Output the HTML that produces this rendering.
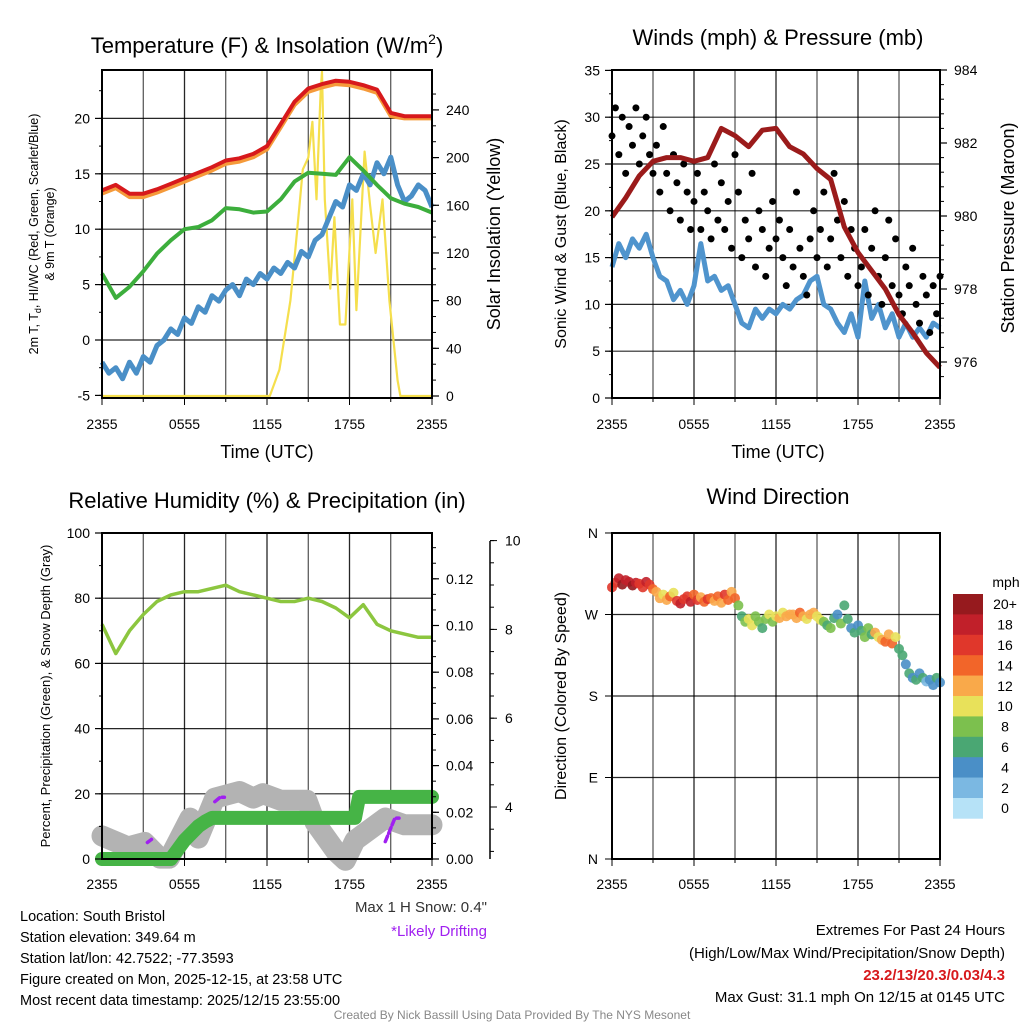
<!DOCTYPE html>
<html><head><meta charset="utf-8">
<style>
html,body{margin:0;padding:0;background:#fff;}
svg{display:block;font-family:"Liberation Sans",Arial,sans-serif;}
</style></head>
<body>
<svg id="chart" width="1024" height="1024" viewBox="0 0 1024 1024" xmlns="http://www.w3.org/2000/svg">
<rect width="1024" height="1024" fill="#fff"/>
<g id="root"></g>
</svg>
<script>
// ---------- DATA ----------
var xTickLabels = ["2355","0555","1155","1755","2355"];
// Panel 1: temperature (hourly, F)
var tempT = [13.5,14,13.2,13.2,13.6,14.1,14.6,15.1,15.6,16.2,16.4,16.8,17.5,19.5,21.5,22.7,23.1,23.4,23.3,23.0,22.6,20.5,20.2,20.2,20.2];
var temp9m = [13.2,13.7,12.9,12.9,13.3,13.8,14.3,14.8,15.3,15.9,16.1,16.5,17.2,19.2,21.2,22.4,22.8,23.1,23.0,22.7,22.3,20.2,20.0,20.0,20.0];
var dewT = [6,3.8,4.8,6.2,7.8,9,10,10.2,10.8,11.9,11.8,11.5,11.6,12.7,14.3,15.1,15.0,14.9,16.5,15.3,14.0,12.8,12.3,12.0,11.5];
var windChill = [-2,-3,-2.5,-3.5,-2,-3,-1.5,-2,-0.5,0,1,0.5,2,1.5,3,2.5,4,3.5,4.5,5,4,5.5,5,6,5.5,6.5,6,7,6.5,8,7.5,9,9.5,11,12.5,12,14,13.5,15,14,16,15,16.5,14,12.5,13,14,13.5,12];
var solarTimes = [0,12.2,12.9,13.7,14.2,14.6,15.0,15.3,15.6,15.9,16.0,16.2,16.6,16.9,17.3,17.7,18.2,18.5,19.1,19.5,19.9,20.4,20.9,21.5,21.7,24];
var solarValues = [0,0,22,80,140,190,200,230,165,255,272,165,90,150,60,60,165,72,205,160,120,165,80,13,0,0];
var tempTicks = [-5,0,5,10,15,20];
var solarTicks = [0,40,80,120,160,200,240];
// Panel 2: winds & pressure
var pressure = [979.97,980.5,981.1,981.5,981.6,981.6,981.5,981.6,982.4,982.2,981.9,982.35,982.4,981.9,981.7,981.3,981.0,979.7,979.0,978.5,978.0,977.3,976.8,976.25,975.85];
var windSpeed = [14,16.5,15,17,16,17.5,15,13,12.5,10.5,11.5,10,12,16.5,12.5,13,11.5,12,10,8,7.5,9.5,8.5,9.5,9,10,9.5,10.5,11,12.5,13,10,9.5,8,7,9,6.5,12.5,8.5,10,7.5,9,6.5,8,6.5,7.5,6.5,8,7.5];
var windGust = [28,31,26,30,24,29,27,31,25,28,30,26,24,
27,22,29,24,20,26,23,19,25,22,18,21,
24,18,22,20,17,25,19,23,18,21,16,26,
22,15,19,17,24,14,20,18,13,16,21,17,
19,15,12,18,14,22,16,13,11,17,20,15,
18,22,14,17,24,19,15,21,13,18,16,12,
14,18,11,16,20,13,10,15,19,12,17,11,
9,14,12,16,10,8,13,11,7,12,9,13];
var windTicks = [0,5,10,15,20,25,30,35];
var pressTicks = [976,978,980,982,984];
// Panel 3: RH & precip & snow
var rh = [72,63,70,75,79,81,82,82,83,84,82,81,80,79,79,80,79,77,74,78,72,70,69,68,68];
var precipTimes = [0,5.0,5.5,6.0,6.5,7.0,7.5,8.0,18.4,18.7,24];
var precipValues = [0,0,0.004,0.008,0.011,0.014,0.016,0.0176,0.0176,0.0266,0.0266];
var snowTimes = [0,1.9,3.1,4.2,4.9,6.4,7.0,8.2,10,11,11.7,13,14.9,15.5,17,17.7,18.4,20.6,22,24];
var snowValues = [3.35,3.1,3.2,2.85,2.85,3.75,3.3,4.2,4.35,4.2,4.3,4.15,4.15,3.65,3.0,2.8,3.25,3.75,3.6,3.6];
var driftTimes = [[3.3,3.6],[8.2,8.6,8.9],[20.6,21.3,21.6]];
var driftValues = [[3.2,3.27],[4.12,4.22,4.22],[3.22,3.75,3.75]];
var rhTicks = [0,20,40,60,80,100];
var precipTicks = [0,0.02,0.04,0.06,0.08,0.10,0.12];
var snowTicks = [4,6,8,10];
// Panel 4: wind direction (every 15 min)
var windDir = [300,305,310,303,308,306,302,305,304,300,306,303,298,
295,288,292,286,290,294,285,282,
287,290,284,292,286,289,284,287,
288,285,290,283,292,286,295,288,
280,268,262,265,258,268,262,255,
265,270,262,268,266,272,268,270,
270,266,272,268,265,270,272,268,
264,262,258,255,266,270,260,280,
265,255,250,258,252,245,255,248,
250,245,242,240,248,238,245,232,
225,215,205,200,198,205,200,196,
198,192,200,195];
var dirSpeed = [16,17,19,20,19,18,20,18,17,16,18,16,14,
12,13,10,12,14,11,16,18,
17,16,18,14,16,13,15,16,
14,12,15,13,16,14,12,15,
8,6,9,10,10,8,9,7,
9,10,8,11,12,10,12,13,
12,13,14,12,11,12,13,11,
10,8,7,9,6,5,8,7,
6,5,7,4,6,8,9,6,
12,11,13,14,12,15,10,7,
6,5,7,4,6,5,6,3,
5,4,6,5];
var dirLabels = ["N","E","S","W","N"];
var cbLabels = ["0","2","4","6","8","10","12","14","16","18","20+"];
var cbColors = ["#b6e2f7","#7bb8e2","#4a8fc7","#4aa773","#7cc04e","#e8e15a","#f9a94a","#f26529","#e0372b","#c1202a","#961a1e"];

// ---------- HELPERS ----------
var NS="http://www.w3.org/2000/svg";
var root=document.getElementById('root');
function mk(tag,attrs,parent){
  var e=document.createElementNS(NS,tag);
  for(var k in attrs)e.setAttribute(k,attrs[k]);
  (parent||root).appendChild(e);
  return e;
}
function txt(s,x,y,size,anchor,parent,extra){
  var a={x:x,y:y,'font-size':size,'text-anchor':anchor||'middle',fill:'#000'};
  if(extra)for(var k in extra)a[k]=extra[k];
  var t=mk('text',a,parent);t.textContent=s;return t;
}
function grp(name){var g=mk('g',{});return g;}
function lineD(xs,ys){var d='';for(var i=0;i<xs.length;i++)d+=(i?'L':'M')+xs[i].toFixed(1)+' '+ys[i].toFixed(1);return d;}

function frame(g,L,R,T,B,xScale,labOff){
  for(var h=3;h<24;h+=3){var x=xScale(h);
    var gl=mk('line',{x1:x,x2:x,y1:T,y2:B,stroke:'#000','stroke-width':(h%6==0?1.3:1.1),'stroke-opacity':(h%6==0?0.85:0.75)},g);
    }
  for(var h=0;h<=24;h+=3){var x=xScale(h);
    mk('line',{x1:x,x2:x,y1:B,y2:B+(h%6==0?7:4),stroke:'#000','stroke-width':1},g);}
  for(var i=0;i<xTickLabels.length;i++){var x=xScale(i*6);
    var t=txt(xTickLabels[i],x,B+labOff,14,'middle',g);
    }
}
function border(g,L,R,T,B){
  var r=mk('rect',{x:L,y:T,width:R-L,height:B-T,fill:'none',stroke:'#000','stroke-width':2},g);
  
}
function leftTicks(g,L,ticks,yS,minorStep,lo,hi,fmt,name){
  for(var v=lo;v<=hi+1e-9;v+=minorStep){mk('line',{x1:L-3,x2:L,y1:yS(v),y2:yS(v),stroke:'#000'},g);}
  ticks.forEach(function(v){var y=yS(v);
    mk('line',{x1:L-7,x2:L,y1:y,y2:y,stroke:'#000','stroke-width':1.2},g);
    var t=txt(fmt?fmt(v):String(v),L-12,y+5,14,'end',g);
    });
}
function rightTicks(g,R,ticks,yS,minorStep,lo,hi,fmt,name){
  for(var v=lo;v<=hi+1e-9;v+=minorStep){mk('line',{x1:R,x2:R+4,y1:yS(v),y2:yS(v),stroke:'#000'},g);}
  ticks.forEach(function(v){var y=yS(v);
    mk('line',{x1:R,x2:R+7,y1:y,y2:y,stroke:'#000','stroke-width':1.2},g);
    var t=txt(fmt?fmt(v):String(v),R+14,y+5,14,'start',g);
    });
}
function hGrid(g,L,R,vals,yS){
  vals.forEach(function(v){var y=yS(v);
    var l=mk('line',{x1:L,x2:R,y1:y,y2:y,stroke:'#000','stroke-width':1.2,'stroke-opacity':0.85},g);
    });
}

// ---------- PANEL 1 ----------
(function(){
  var L=102,R=432,T=70,B=398;
  var g=grp('temperature-panel');
  var x=function(t){return L+t*(R-L)/24;};
  var y=function(v){return 340-v*11.08;};
  var ys=function(v){return 396-v*1.192;};
  frame(g,L,R,T,B,x,31);
  hGrid(g,L,R,[0,5,10,15,20],y);
  var hrs=tempT.map(function(_,i){return i;});
  var half=windChill.map(function(_,i){return i/2;});
  var p;
  p=mk('path',{d:lineD(solarTimes.map(x),solarValues.map(ys)),fill:'none',stroke:'#f5df4d','stroke-width':2.2,'stroke-linejoin':'round'},g);
  
  p=mk('path',{d:lineD(half.map(x),windChill.map(y)),fill:'none',stroke:'#4a8fc7','stroke-width':5,'stroke-linejoin':'round'},g);
  
  p=mk('path',{d:lineD(hrs.map(x),dewT.map(y)),fill:'none',stroke:'#3cae3c','stroke-width':4,'stroke-linejoin':'round'},g);
  
  p=mk('path',{d:lineD(hrs.map(x),temp9m.map(y)),fill:'none',stroke:'#f59a3a','stroke-width':4,'stroke-linejoin':'round'},g);
  
  p=mk('path',{d:lineD(hrs.map(x),tempT.map(y)),fill:'none',stroke:'#d7191c','stroke-width':4,'stroke-linejoin':'round'},g);
  
  border(g,L,R,T,B);
  leftTicks(g,L,tempTicks,y,2.5,-5,22.5,null,'y-tick-label');
  rightTicks(g,R,solarTicks,ys,13.333,0,266,null,'y2-tick-label');
  var t=mk('text',{x:267,y:53,'font-size':22,'text-anchor':'middle'},g);
  t.innerHTML='Temperature (F) &amp; Insolation (W/m<tspan dy="-9" font-size="14">2</tspan><tspan dy="9">)</tspan>';
  
  t=txt('Time (UTC)',267,458,18,'middle',g);
  t=mk('text',{transform:'translate(38,234) rotate(-90)','font-size':12.5,'text-anchor':'middle'},g);
  t.innerHTML='2m T, T<tspan dy="3" font-size="9">d</tspan><tspan dy="-3">, HI/WC (Red, Green, Scarlet/Blue)</tspan>';
  
  t=mk('text',{transform:'translate(54,234) rotate(-90)','font-size':12.5,'text-anchor':'middle'},g);t.textContent='& 9m T (Orange)';
  
  t=mk('text',{transform:'translate(500,234) rotate(-90)','font-size':18,'text-anchor':'middle'},g);t.textContent='Solar Insolation (Yellow)';
  
})();

// ---------- PANEL 2 ----------
(function(){
  var L=612,R=940,T=70,B=398;
  var g=grp('winds-panel');
  var x=function(t){return L+t*(R-L)/24;};
  var y=function(v){return 398-v*9.36;};
  var yp=function(v){return 216-(v-980)*36.5;};
  frame(g,L,R,T,B,x,31);
  hGrid(g,L,R,[5,10,15,20,25,30,35],y);
  var half=windSpeed.map(function(_,i){return i/2;});
  var p=mk('path',{d:lineD(half.map(x),windSpeed.map(y)),fill:'none',stroke:'#4f94cd','stroke-width':5,'stroke-linejoin':'round'},g);
  
  windGust.forEach(function(v,i){
    var c=mk('circle',{cx:x(i/4),cy:y(v),r:3.5,fill:'#000'},g);
    
  });
  var hrs=pressure.map(function(_,i){return i;});
  p=mk('path',{d:lineD(hrs.map(x),pressure.map(yp)),fill:'none',stroke:'#9b1b1b','stroke-width':5,'stroke-linejoin':'round'},g);
  
  border(g,L,R,T,B);
  leftTicks(g,L,windTicks,y,2.5,0,35,null,'y-tick-label');
  rightTicks(g,R,pressTicks,yp,0.4,975.6,984.0,null,'y2-tick-label');
  var t=txt('Winds (mph) & Pressure (mb)',778,45,22,'middle',g);
  t=txt('Time (UTC)',778,458,18,'middle',g);
  t=mk('text',{transform:'translate(566,234) rotate(-90)','font-size':16,'text-anchor':'middle'},g);t.textContent='Sonic Wind & Gust (Blue, Black)';
  
  t=mk('text',{transform:'translate(1014,228) rotate(-90)','font-size':18,'text-anchor':'middle'},g);t.textContent='Station Pressure (Maroon)';
  
})();

// ---------- PANEL 3 ----------
(function(){
  var L=102,R=432,T=533,B=859;
  var g=grp('humidity-panel');
  var x=function(t){return L+t*(R-L)/24;};
  var y=function(v){return 859-v*3.26;};
  var yp=function(v){return 859-v*2335;};
  var ysn=function(v){return 807-(v-4)*44.4;};
  frame(g,L,R,T,B,x,30);
  hGrid(g,L,R,[20,40,60,80],y);
  var p=mk('path',{d:lineD(snowTimes.map(x),snowValues.map(ysn)),fill:'none',stroke:'#b3b3b3','stroke-width':21,'stroke-linejoin':'round','stroke-linecap':'round'},g);
  
  p=mk('path',{d:lineD(precipTimes.map(x),precipValues.map(yp)),fill:'none',stroke:'#46b446','stroke-width':14,'stroke-linejoin':'round','stroke-linecap':'round'},g);
  
  driftTimes.forEach(function(ts,k){
    var d=mk('path',{d:lineD(ts.map(x),driftValues[k].map(ysn)),fill:'none',stroke:'#a020f0','stroke-width':3.5,'stroke-dasharray':'6 3','stroke-linecap':'round'},g);
    
  });
  var hrs=rh.map(function(_,i){return i;});
  p=mk('path',{d:lineD(hrs.map(x),rh.map(y)),fill:'none',stroke:'#8cc63f','stroke-width':3.5,'stroke-linejoin':'round'},g);
  
  border(g,L,R,T,B);
  leftTicks(g,L,rhTicks,y,10,0,100,null,'y-tick-label');
  rightTicks(g,R,precipTicks,yp,0.0066667,0,0.139,function(v){return v.toFixed(2);},'y2-tick-label');
  var sx=490;
  mk('line',{x1:sx,x2:sx,y1:541,y2:859,stroke:'#000','stroke-width':1.5},g);
  for(var v=3;v<=10.01;v+=0.5){mk('line',{x1:sx,x2:sx+4,y1:ysn(v),y2:ysn(v),stroke:'#000'},g);}
  snowTicks.forEach(function(v){mk('line',{x1:sx,x2:sx+7,y1:ysn(v),y2:ysn(v),stroke:'#000'},g);
    var t=txt(String(v),sx+15,ysn(v)+5,14,'start',g);});
  var t=txt('Relative Humidity (%) & Precipitation (in)',267,508,22,'middle',g);
  t=mk('text',{transform:'translate(50,696) rotate(-90)','font-size':13,'text-anchor':'middle'},g);t.textContent='Percent, Precipitation (Green), & Snow Depth (Gray)';
  
  t=txt('Max 1 H Snow: 0.4"',487,912,15,'end',g,{fill:'#333'});
  t=txt('*Likely Drifting',487,936,15,'end',g,{fill:'#a020f0'});
})();

// ---------- PANEL 4 ----------
(function(){
  var L=612,R=940,T=533,B=859;
  var g=grp('wind-direction-panel');
  var x=function(t){return L+t*(R-L)/24;};
  var y=function(d){return 859-d*0.9056;};
  frame(g,L,R,T,B,x,30);
  hGrid(g,L,R,[90,180,270],y);
  windDir.forEach(function(d,i){
    var ci=Math.min(10,Math.floor(dirSpeed[i]/2));
    var c=mk('circle',{cx:x(i/4),cy:y(d),r:5,fill:cbColors[ci],'fill-opacity':0.9},g);
    
  });
  border(g,L,R,T,B);
  dirLabels.forEach(function(s,i){var yy=y(i*90);
    mk('line',{x1:L-7,x2:L,y1:yy,y2:yy,stroke:'#000'},g);
    var t=txt(s,L-14,yy+5,14,'end',g);});
  var t=txt('Wind Direction',778,504,22,'middle',g);
  t=mk('text',{transform:'translate(566,696) rotate(-90)','font-size':16,'text-anchor':'middle'},g);t.textContent='Direction (Colored By Speed)';
  
  var cb=grp('speed-colorbar');
  var cellH=20.4, top=594;
  for(var k=10;k>=0;k--){
    var yy=top+(10-k)*cellH;
    var r=mk('rect',{x:953,y:yy,width:30,height:cellH+0.3,fill:cbColors[k]},cb);
    
    var tt=txt(cbLabels[k],1005,yy+cellH/2+5,14,'middle',cb);
  }
  t=txt('mph',1006,587,14,'middle',cb);
})();

// ---------- FOOTER ----------
(function(){
  var g=grp('footer');
  var lines=['Location: South Bristol','Station elevation: 349.64 m','Station lat/lon: 42.7522; -77.3593','Figure created on Mon, 2025-12-15, at 23:58 UTC','Most recent data timestamp: 2025/12/15 23:55:00'];
  lines.forEach(function(s,i){var t=txt(s,20,921+i*21,14.5,'start',g);});
  var t=txt('Extremes For Past 24 Hours',1005,935,15,'end',g);
  t=txt('(High/Low/Max Wind/Precipitation/Snow Depth)',1005,958,15,'end',g);
  t=txt('23.2/13/20.3/0.03/4.3',1005,980,15,'end',g,{fill:'#d7191c','font-weight':'bold'});
  t=txt('Max Gust: 31.1 mph On 12/15 at 0145 UTC',1005,1002,15,'end',g);
  t=txt('Created By Nick Bassill Using Data Provided By The NYS Mesonet',512,1019,12,'middle',g,{fill:'#888'});
})();
</script>
</body></html>
